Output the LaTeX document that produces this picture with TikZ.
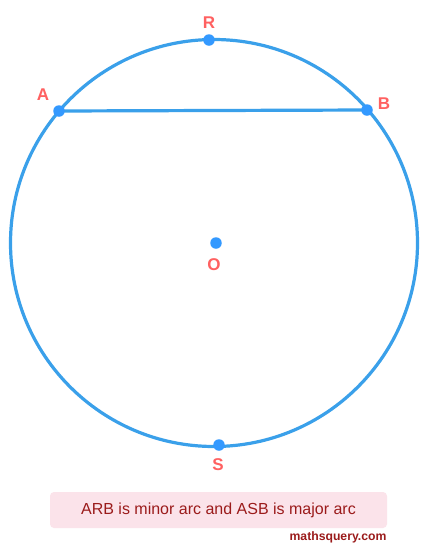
\documentclass[tikz,border=0pt]{standalone}
\usepackage{fontspec}
\setmainfont{Liberation Sans}
\definecolor{circ}{HTML}{3AA0EA}
\definecolor{dotc}{HTML}{3399FF}
\definecolor{lab}{HTML}{FF6161}
\definecolor{boxfill}{HTML}{FBE3EA}
\definecolor{boxtext}{HTML}{9B1B1B}
\begin{document}
\begin{tikzpicture}[x=1pt,y=-1pt,
  pt/.style={circle,fill=dotc,inner sep=0pt,minimum size=11.5pt},
  lbl/.style={text=lab,font=\fontsize{17}{17}\selectfont\bfseries,inner sep=0pt}]
\useasboundingbox (0,0) rectangle (430,558);
\fill[white] (0,0) rectangle (430,558);
\draw[circ,line width=3.2pt] (214,243) circle (203.5);
\draw[circ,line width=3.2pt] (59,111) coordinate (a0) -- (367,110) coordinate (b0);
\node[pt] (R) at (209,40) {};
\node[pt] (A) at (a0) {};
\node[pt] (B) at (b0) {};
\node[pt] (O) at (216,243) {};
\node[pt] (S) at (219,445) {};
\node[lbl] (lR) at (209,23) {R};
\node[lbl] (lA) at (43,95) {A};
\node[lbl] (lB) at (384,104) {B};
\node[lbl] (lO) at (214,265) {O};
\node[lbl] (lS) at (218,465) {S};
\node[fill=boxfill,rounded corners=4pt,minimum width=337pt,minimum height=36pt,inner sep=0pt,
  text=boxtext,font=\fontsize{16}{16}\selectfont] (box) at (218.5,510) {ARB is minor arc and ASB is major arc};
\node[text=boxtext,font=\fontsize{12.2}{12.2}\selectfont\bfseries,inner sep=0pt] (web) at (338,537) {mathsquery.com};
\end{tikzpicture}
\end{document}
